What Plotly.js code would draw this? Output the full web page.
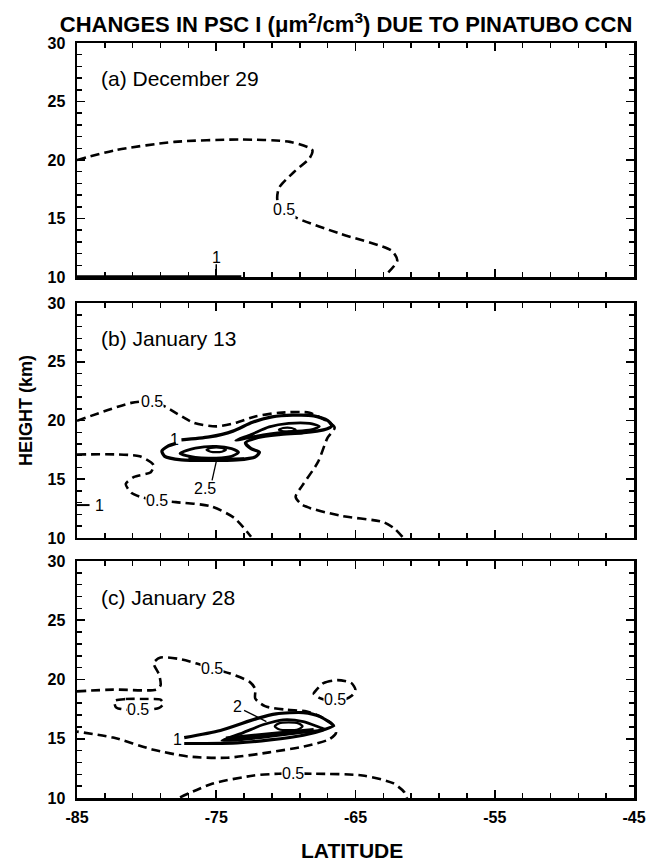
<!DOCTYPE html>
<html>
<head>
<meta charset="utf-8">
<script src="https://cdn.plot.ly/plotly-3.0.1.min.js"></script>
<style>html,body{margin:0;padding:0;background:#fff;}#chart{width:648px;height:863px;}</style>
</head>
<body>
<div id="chart"></div>
<script>
// ---------------- DATA (latitude, height km) ----------------
// Panel (a) December 29
const a05_lat = [-85, -82.2, -78.0, -73.3, -69.7, -68.1, -68.3, -69.4, -70.5, -70.6, -70.1, -69.3, -66.1, -62.4, -62.0, -62.9];
const a05_h   = [20.0, 20.85, 21.55, 21.75, 21.55, 20.85, 20.15, 19.0, 17.6, 16.5, 15.8, 15.1, 13.7, 12.25, 11.4, 10.1];
const a1_lat  = [-75.0, -75.0];
const a1_h    = [10.0, 11.1];
const a1b_lat = [-85, -73.2];
const a1b_h   = [10.0, 10.0];

// Panel (b) January 13
const b05u_lat = [-85, -81.1, -79.6, -78.7, -76.6, -75.0, -73.6, -72.2, -70.5, -68.3, -66.5, -67.0, -67.7, -68.8, -69.3, -68.8, -66.1, -63.0, -62.2, -61.6];
const b05u_h   = [19.97, 21.5, 21.65, 21.2, 19.8, 19.5, 19.8, 20.35, 20.65, 20.65, 19.4, 18.55, 16.45, 14.5, 13.5, 12.8, 11.9, 11.35, 10.8, 10.05];
const b05l_lat = [-85, -80.5, -79.5, -79.7, -80.9, -81.5, -81.1, -80.3, -79.25, -77.9, -75.4, -73.7, -72.5];
const b05l_h   = [17.1, 16.95, 16.2, 15.6, 15.2, 14.6, 13.85, 13.45, 13.2, 13.05, 12.7, 11.7, 10.1];
const b1s_lat  = [-85, -84.1];
const b1s_h    = [12.8, 12.8];
const b1_lat   = [-77.5, -75.5, -73.8, -72.4, -71.0, -69.5, -68.0, -67.0, -66.7, -67.3, -68.8, -70.5, -72.0, -72.9, -72.5, -71.9, -72.2, -73.5, -75.5, -77.5, -78.7, -78.9, -78.5, -77.9];
const b1_h     = [18.35, 18.6, 19.1, 19.85, 20.3, 20.45, 20.4, 20.0, 19.55, 19.2, 18.95, 18.8, 18.55, 18.1, 17.6, 17.3, 16.9, 16.65, 16.6, 16.65, 16.95, 17.4, 17.8, 18.05];
const b15_lat  = [-73.6, -72.5, -71.2, -69.8, -68.3, -67.6, -68.2, -69.8, -71.5, -72.8, -73.6];
const b15_h    = [18.3, 18.8, 19.45, 19.75, 19.75, 19.5, 19.2, 19.05, 18.8, 18.5, 18.3];
const b2_lat   = [-77.6, -76.5, -75.0, -73.9, -73.4, -73.9, -75.0, -76.5, -77.6];
const b2_h     = [17.2, 17.65, 17.8, 17.6, 17.3, 16.95, 16.8, 16.85, 17.2];
const b2b_lat  = [-77.0, -75.0, -73.0];
const b2b_h    = [16.75, 16.68, 16.75];
const bo1_lat  = [-75.7, -75.4, -75.0, -74.6, -74.3, -74.6, -75.0, -75.4, -75.7];
const bo1_h    = [17.5, 17.66, 17.7, 17.66, 17.5, 17.34, 17.3, 17.34, 17.5];
const bo2_lat  = [-70.5, -70.2, -69.9, -69.6, -69.3, -69.6, -69.9, -70.2, -70.5];
const bo2_h    = [19.22, 19.36, 19.4, 19.36, 19.22, 19.08, 19.04, 19.08, 19.22];
const bld_lat  = [-75.3, -75.0];
const bld_h    = [14.9, 16.5];

// Panel (c) January 28
const c05a_lat = [-85, -82.4, -79.3, -79.0, -79.1, -79.5, -79.0, -77.5, -75.3, -74.0, -72.6, -72.2, -72.2, -71.5, -70.0, -68.5, -67.4, -66.6, -66.4, -66.9, -68.7, -71.2, -74.2, -77.0, -79.6, -82.4, -85];
const c05a_h   = [19.0, 19.15, 19.15, 19.5, 20.4, 21.4, 21.85, 21.7, 20.95, 20.5, 19.8, 19.2, 18.4, 17.75, 17.45, 17.3, 16.8, 16.15, 15.5, 14.95, 14.35, 13.85, 13.4, 13.5, 14.1, 15.1, 15.6];
const c05b_lat = [-82.3, -81.5, -80.0, -79.0, -78.8, -79.1, -80.0, -81.5, -82.2, -82.3];
const c05b_h   = [18.2, 18.35, 18.35, 18.3, 17.95, 17.6, 17.45, 17.45, 17.65, 18.2];
const c05c_lat = [-67.9, -67.3, -66.3, -65.3, -65.0, -65.3, -65.9, -66.8, -67.6, -68.0, -67.9];
const c05c_h   = [19.0, 19.7, 19.95, 19.7, 19.1, 18.6, 18.25, 18.2, 18.45, 18.8, 19.0];
const c05d_lat = [-77.6, -75.3, -72.3, -70.5, -69.5, -68.0, -64.5, -62.3, -61.5, -61.3];
const c05d_h   = [10.05, 11.2, 11.9, 12.05, 12.05, 12.05, 11.9, 11.25, 10.5, 10.0];
const c1_lat   = [-77.3, -74.7, -72.1, -70.7, -68.75, -67.55, -66.6, -67.3, -68.75, -71.15, -73.5, -75.9, -77.3];
const c1_h     = [15.1, 15.7, 16.7, 17.1, 17.2, 16.87, 16.1, 15.75, 15.3, 14.9, 14.65, 14.6, 14.6];
const c2_lat   = [-74.6, -73.1, -71.6, -70.2, -68.75, -67.55, -67.2, -68.75, -71.15, -73.5, -74.6];
const c2_h     = [14.85, 15.5, 16.2, 16.6, 16.45, 15.95, 15.8, 15.55, 15.2, 14.9, 14.85];
const c2b_lat  = [-74.3, -71.0, -68.0];
const c2b_h    = [15.0, 15.38, 15.72];
const co_lat   = [-70.8, -70.5, -69.8, -69.1, -68.8, -69.1, -69.8, -70.5, -70.8];
const co_h     = [16.05, 16.3, 16.38, 16.3, 16.05, 15.8, 15.72, 15.8, 16.05];
const cld_lat  = [-73.0, -71.4];
const cld_h    = [17.4, 16.45];

// Contour labels
const lab_panel = ['',    '',    '2',   '2',    '2',   '2',   '2',   '3',   '3',   '3',    '3',   '3',   '3'];
const lab_text  = ['0.5', '1',   '0.5', '0.5',  '1',   '1',   '2.5', '0.5', '0.5', '0.5',  '0.5', '1',   '2'];
const lab_lat   = [-70.1, -75.0, -79.6, -79.25, -83.4, -78.0, -75.8, -75.3, -80.6, -66.45, -69.5, -77.8, -73.5];
const lab_h     = [15.8,  11.7,  21.65, 13.2,   12.8,  18.35, 14.2,  20.95, 17.45, 18.3,   12.05, 14.9,  17.7];
const lab_bg    = [true,  false, true,  true,   false, false, false, true,  true,  true,   true,  false, false];

const panel_names = ['(a) December 29', '(b) January 13', '(c) January 28'];
const xticks = [-85, -75, -65, -55, -45];

// ---------------- PLOT ----------------
const FONT = 'Liberation Sans, Arial, Helvetica, sans-serif';
const DASH = '9px,5px';
function ln(lat, h, ax, dash, width) {
  return {type: 'scatter', mode: 'lines', x: lat, y: h, xaxis: 'x' + ax, yaxis: 'y' + ax,
    line: {color: 'black', width: width, dash: dash, shape: 'spline', smoothing: 0.7},
    hoverinfo: 'skip', showlegend: false};
}
const traces = [
  ln(a05_lat, a05_h, '', DASH, 2.6),
  ln(a1_lat, a1_h, '', 'solid', 1.5),
  ln(a1b_lat, a1b_h, '', 'solid', 3.5),
  ln(b05u_lat, b05u_h, '2', DASH, 2.6),
  ln(b05l_lat, b05l_h, '2', DASH, 2.6),
  ln(b1s_lat, b1s_h, '2', 'solid', 2),
  ln(b1_lat, b1_h, '2', 'solid', 3.3),
  ln(b15_lat, b15_h, '2', 'solid', 2.8),
  ln(b2_lat, b2_h, '2', 'solid', 2.8),
  ln(b2b_lat, b2b_h, '2', 'solid', 3),
  ln(bo1_lat, bo1_h, '2', 'solid', 2.2),
  ln(bo2_lat, bo2_h, '2', 'solid', 2.2),
  ln(bld_lat, bld_h, '2', 'solid', 1.3),
  ln(c05a_lat, c05a_h, '3', DASH, 2.6),
  ln(c05b_lat, c05b_h, '3', DASH, 2.6),
  ln(c05c_lat, c05c_h, '3', DASH, 2.6),
  ln(c05d_lat, c05d_h, '3', DASH, 2.6),
  ln(c1_lat, c1_h, '3', 'solid', 3.2),
  ln(c2_lat, c2_h, '3', 'solid', 2.8),
  ln(c2b_lat, c2b_h, '3', 'solid', 4.5),
  ln(co_lat, co_h, '3', 'solid', 2.2),
  ln(cld_lat, cld_h, '3', 'solid', 1.3)
];

const tickFont = {family: FONT, size: 16, color: 'black', weight: 700};
function xax(anchor, labels) {
  return {anchor: anchor, range: [-85, -45], tickmode: 'array', tickvals: xticks, ticktext: xticks.map(String),
    showticklabels: labels, ticks: 'inside', ticklen: 8, tickwidth: 1.8, tickcolor: 'black',
    minor: {tickmode: 'linear', tick0: -85, dtick: 2, ticks: 'inside', ticklen: 5, tickwidth: 1.5, tickcolor: 'black', showgrid: false},
    showline: true, linewidth: 2.5, linecolor: 'black', mirror: 'allticks',
    showgrid: false, zeroline: false, tickfont: tickFont, ticklabelstandoff: 3, fixedrange: true};
}
function yax(anchor, domain) {
  return {anchor: anchor, domain: domain, range: [10, 30], tick0: 10, dtick: 5,
    ticks: 'inside', ticklen: 8, tickwidth: 1.8, tickcolor: 'black',
    minor: {tick0: 10, dtick: 1, ticks: 'inside', ticklen: 5, tickwidth: 1.5, tickcolor: 'black', showgrid: false},
    showline: true, linewidth: 2.5, linecolor: 'black', mirror: 'allticks',
    showgrid: false, zeroline: false, tickfont: tickFont, ticklabelstandoff: 6, fixedrange: true};
}

const annotations = [];
const axSuffix = ['', '2', '3'];
panel_names.forEach((t, i) => {
  annotations.push({xref: 'x' + axSuffix[i], yref: 'y' + axSuffix[i], x: -83.4, y: 26.95, text: t,
    showarrow: false, xanchor: 'left', yanchor: 'middle', font: {family: FONT, size: 21, color: 'black'}});
});
lab_text.forEach((t, i) => {
  annotations.push({xref: 'x' + lab_panel[i], yref: 'y' + lab_panel[i], x: lab_lat[i], y: lab_h[i], text: t,
    showarrow: false, xanchor: 'center', yanchor: 'middle', borderpad: 0,
    bgcolor: lab_bg[i] ? 'white' : 'rgba(0,0,0,0)',
    font: {family: FONT, size: 16, color: 'black'}});
});
annotations.push({xref: 'paper', yref: 'paper', x: -0.0916, y: 0.514, text: 'HEIGHT (km)', textangle: -90,
  showarrow: false, xanchor: 'center', yanchor: 'middle', font: {family: FONT, size: 18, color: 'black', weight: 700}});
annotations.push({xref: 'paper', yref: 'paper', x: 0.494, y: -0.0689, text: 'LATITUDE',
  showarrow: false, xanchor: 'center', yanchor: 'middle', font: {family: FONT, size: 21, color: 'black', weight: 700}});

const layout = {
  width: 648, height: 863,
  margin: {l: 77, r: 14, t: 43, b: 65},
  paper_bgcolor: 'white', plot_bgcolor: 'white',
  showlegend: false,
  title: {text: 'CHANGES IN PSC I (\u03bcm<sup>2</sup>/cm<sup>3</sup>) DUE TO PINATUBO CCN',
    x: 0.534, xanchor: 'center', y: 0.972, yanchor: 'middle', yref: 'container',
    font: {family: FONT, size: 22, color: 'black', weight: 700}},
  xaxis: xax('y', false),
  xaxis2: xax('y2', false),
  xaxis3: xax('y3', true),
  yaxis: yax('x', [0.690, 1]),
  yaxis2: yax('x2', [0.3444, 0.6556]),
  yaxis3: yax('x3', [0, 0.3139]),
  annotations: annotations
};

Plotly.newPlot('chart', traces, layout, {staticPlot: true, displayModeBar: false});
</script>
</body>
</html>
